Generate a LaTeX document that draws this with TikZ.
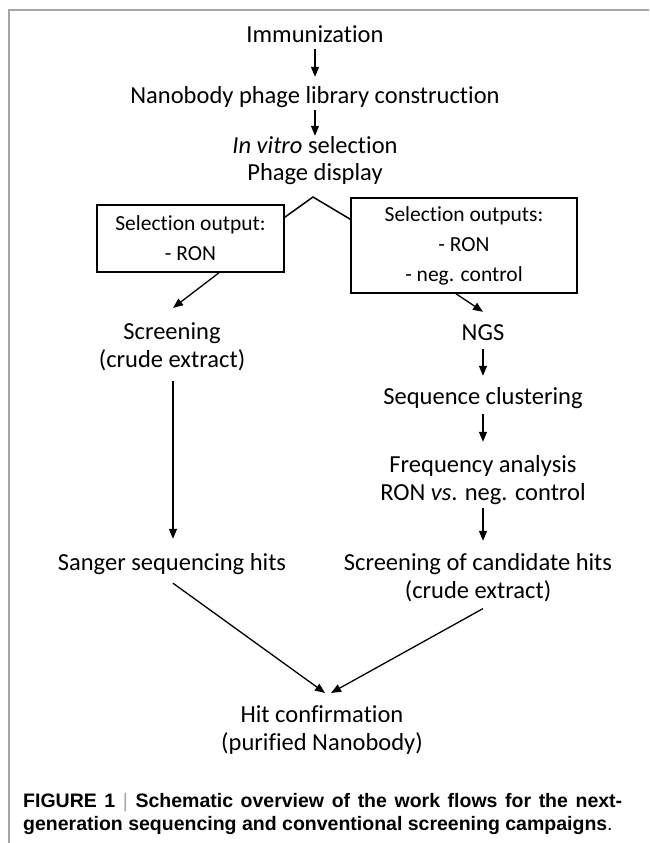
\documentclass[tikz,border=0pt]{standalone}
\usepackage{fontspec}
\setmainfont{Carlito}[Ligatures={NoCommon}]
\newfontfamily\capfont{Liberation Sans}
\usepackage{tikz}
\usetikzlibrary{arrows.meta}

\begin{document}
\begin{tikzpicture}[x=1pt, y=-1pt,
    every node/.style={inner sep=0pt, font=\fontsize{24.5}{28}\selectfont},
    txt/.style={anchor=base, text height=17pt, text depth=5pt},
    txtblock/.style={anchor=base, align=center},
    outbox/.style={draw, line width=1.5pt, align=center, font=\fontsize{21.5}{30}\selectfont},
    arr/.style={line width=1.3pt, -{Triangle[length=10pt,width=8pt]}}]
  \useasboundingbox (0,0) rectangle (649,843);
  % frame of the figure panel
  \draw[gray!70, line width=2pt] (649,10) -- (9,10) -- (9,843);

  % Main chain
  \node[txt] (imm) at (315,43) {Immunization};
  \node[txt] (nano) at (315,103) {Nanobody phage library construction};
  \node[txt] (vitro) at (315,153) {\textit{In vitro} selection};
  \node[txt] (phage) at (315,180) {Phage display};
  \coordinate (fork) at (313,197);

  % Selection outputs
  \node[outbox, minimum width=187pt, minimum height=67pt] (lbox) at (190.5,238.5)
    {Selection output:\\- RON};
  \node[outbox, minimum width=226pt, minimum height=95pt] (rbox) at (464,245.5)
    {Selection outputs:\\- RON\\- neg. control};

  % Conventional screening (base = last line)
  \node[txtblock] (scr) at (172,367) {Screening\\(crude extract)};
  \node[txt] (sanger) at (172,570) {Sanger sequencing hits};

  % NGS branch
  \node[txt] (ngs) at (483,340) {NGS};
  \node[txt] (clust) at (483,404) {Sequence clustering};
  \node[txtblock] (freq) at (483,500) {Frequency analysis\\RON \textit{vs}. neg. control};
  \node[txtblock] (cand) at (478,598) {Screening of candidate hits\\(crude extract)};

  \node[txtblock] (hit) at (322,750) {Hit confirmation\\(purified Nanobody)};

  % Caption (text width: base = first line)
  \node[anchor=base west, align=justify, text width=599pt,
        font=\capfont\bfseries\fontsize{19.5}{23}\selectfont] (caption) at (23,807)
    {FIGURE 1 {\mdseries\color{gray!70}|} Schematic overview of the work flows for the next-\linebreak
     generation sequencing and conventional screening campaigns{\mdseries .}};

  % Arrows
  \draw[arr, shorten <=1pt, shorten >=9pt] (imm.south) -- (nano.north);
  \draw[arr, shorten <=2pt] (nano.south) -- (vitro.north);
  \draw[line width=1.5pt] ([yshift=-13pt]lbox.north east) -- (fork) -- ([yshift=-22pt]rbox.north west);
  \draw[arr] ([xshift=28.5pt]lbox.south) -- ([xshift=1pt,yshift=14pt]scr.north);
  \draw[arr] ([xshift=-8pt]rbox.south) -- ([yshift=11pt]ngs.north);
  \draw[arr, shorten <=4pt, shorten >=11pt] (ngs.south) -- (clust.north);
  \draw[arr, shorten <=5pt, shorten >=13pt] (clust.south) -- (freq.north);
  \draw[arr, shorten <=4pt, shorten >=12pt] (freq.south) -- ([xshift=5pt]cand.north);
  \draw[arr, shorten <=10pt, shorten >=14pt] ([xshift=1pt]scr.south) -- ([xshift=1pt]sanger.north);
  \draw[arr] ([xshift=1pt,yshift=-8pt]sanger.south) -- ([xshift=3pt,yshift=12pt]hit.north);
  \draw[arr] ([xshift=5pt,yshift=-7pt]cand.south) -- ([xshift=9pt,yshift=12pt]hit.north);
\end{tikzpicture}
\end{document}
